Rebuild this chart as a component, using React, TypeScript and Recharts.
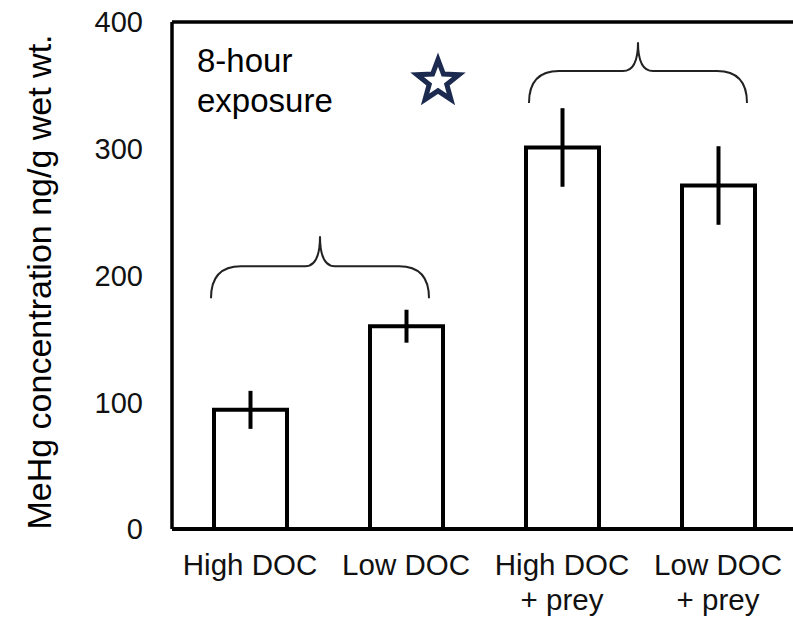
import { Bar, BarChart, ErrorBar, Label, ReferenceArea, ReferenceDot, ReferenceLine, XAxis, YAxis } from "recharts"

const categories = ["High DOC", "Low DOC", "High DOC\n+ prey", "Low DOC\n+ prey"]
const means = [94, 160, 301, 271]
const errors = [15, 13, 31, 31]
const yTicks = [0, 100, 200, 300, 400]

// curly braces grouping the bars
const braceFrom = ["High DOC", "High DOC\n+ prey"]
const braceTo = ["Low DOC", "Low DOC\n+ prey"]
const braceLow = [182, 336]
const braceHigh = [231, 384]
const braceShift = [-8, -2]

const FONT = "'Liberation Sans', Arial, Helvetica, sans-serif"

const data = categories.map((name, i) => ({ name, mean: means[i], err: errors[i] }))

const XTick = ({ x, y, payload }: any) => {
    const lines = String(payload.value).split("\n")
    return (
        <text x={x} y={y + 46} textAnchor="middle" fontSize={29.5} fontFamily={FONT} fill="#111">
            {lines.map((l, i) => (
                <tspan key={i} x={x} dy={i === 0 ? 0 : 35}>{l}</tspan>
            ))}
        </text>
    )
}

const Brace = ({ x, y, width, height, shift = 0 }: any) => {
    const tip = x + width / 2 + shift
    const L = tip - 109
    const R = tip + 109
    const bot = y + height
    const top = y
    const mid = bot - 32
    const d = `M${L},${bot} Q${L},${mid} ${L + 30},${mid} L${tip - 15},${mid} Q${tip},${mid} ${tip},${top} ` +
        `Q${tip},${mid} ${tip + 15},${mid} L${R - 30},${mid} Q${R},${mid} ${R},${bot}`
    return <path d={d} fill="none" stroke="#222" strokeWidth={2} />
}

const Star = ({ cx, cy }: any) => {
    const c = cx + 32
    const R = 22
    const r = R * 0.42
    const pts = []
    for (let k = 0; k < 10; k++) {
        const rad = k % 2 === 0 ? R : r
        const a = -Math.PI / 2 + (k * Math.PI) / 5
        pts.push(`${c + rad * Math.cos(a)},${cy + rad * Math.sin(a)}`)
    }
    return <polygon points={pts.join(" ")} fill="#fff" stroke="#1b2a4e" strokeWidth={5} strokeLinejoin="miter" />
}

const YLabel = () => (
    <text x={39} y={282} transform="rotate(-90 39 282)" textAnchor="middle" dominantBaseline="central"
        fontSize={34} fontFamily={FONT} fill="#000">
        MeHg concentration ng/g wet wt.
    </text>
)

const App = () => {
    return (
        <div style={{ position: "fixed", top: 0, left: 0, width: 793, height: 618, overflow: "hidden", background: "#fff" }}>
            <BarChart width={800} height={618} data={data} margin={{ top: 22, right: 4, left: 0, bottom: 0 }}>
                <XAxis dataKey="name" height={89} tickLine={false} tickSize={0} tickMargin={0}
                    axisLine={{ stroke: "#000", strokeWidth: 4 }} tick={<XTick />} interval={0} />
                <YAxis domain={[0, 400]} ticks={yTicks} width={172} tickLine={false} tickSize={0} tickMargin={29}
                    axisLine={{ stroke: "#000", strokeWidth: 3.5 }}
                    tick={{ fontSize: 29, fill: "#111", fontFamily: FONT }}>
                    <Label content={<YLabel />} />
                </YAxis>
                <ReferenceLine y={400} stroke="#000" strokeWidth={3.5} />
                <Bar dataKey="mean" fill="#fff" stroke="#000" strokeWidth={4} barSize={73} isAnimationActive={false}>
                    <ErrorBar dataKey="err" width={0} stroke="#000" strokeWidth={4} direction="y" />
                </Bar>
                {braceFrom.map((f, i) => (
                    <ReferenceArea key={i} x1={f} x2={braceTo[i]} y1={braceLow[i]} y2={braceHigh[i]}
                        shape={<Brace shift={braceShift[i]} />} />
                ))}
                <ReferenceDot x="Low DOC" y={353} r={0} shape={<Star />} />
                <text x={197} y={72} fontSize={33} fontFamily={FONT} fill="#000">8-hour</text>
                <text x={197} y={112} fontSize={33} fontFamily={FONT} fill="#000">exposure</text>
            </BarChart>
        </div>
    )
}

export default App
